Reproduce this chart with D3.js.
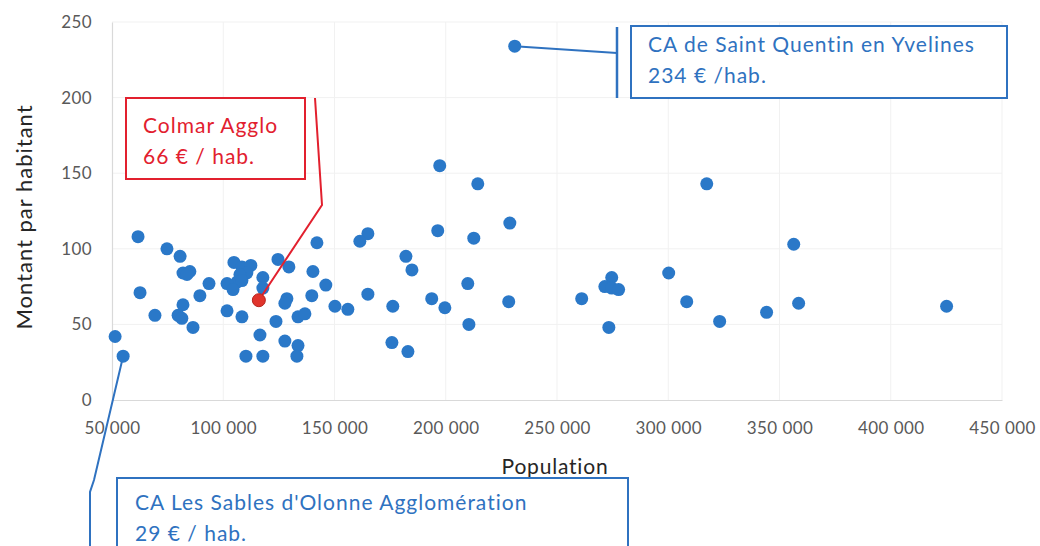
<!DOCTYPE html>
<html lang="fr">
<head>
<meta charset="utf-8">
<script src="https://cdn.jsdelivr.net/npm/d3@7"></script>
<style>
  html, body { margin: 0; padding: 0; background: #ffffff; }
  svg { display: block; font-family: Lato, "Open Sans", sans-serif; }
</style>
</head>
<body>
<svg id="chart" width="1040" height="546"></svg>
<script>
// Population de l'EPCI et montant par habitant
const population = [61700, 51400, 62600, 74700, 80600, 81900, 85000, 83700, 69300, 81900,
  79700, 81400, 86400, 89500, 93600, 101700, 108400, 104800, 108400, 112400,
  110600, 107500, 106200, 101700, 104400, 108400, 117800, 117800, 124600, 129500,
  116500, 110200, 117800, 123700, 128600, 127700, 127700, 133600, 133100, 133600,
  136700, 139800, 140300, 142100, 146100, 150200, 156000, 165000, 161400, 165000,
  182100, 184800, 176200, 175800, 183000, 197300, 196400, 193700, 199600, 214400,
  212600, 209900, 210400, 228800, 228300, 261100, 274600, 271500, 274600, 277700,
  273300, 300200, 308300, 317300, 323100, 344200, 356400, 358600, 425100];
const montantParHabitant = [108, 42, 71, 100, 95, 84, 85, 83, 56, 63,
  56, 54, 48, 69, 77, 59, 55, 91, 88, 89,
  84, 83, 78, 77, 73, 79, 81, 74, 93, 88,
  43, 29, 29, 52, 67, 64, 39, 36, 29, 55,
  57, 69, 85, 104, 76, 62, 60, 110, 105, 70,
  95, 86, 62, 38, 32, 155, 112, 67, 61, 143,
  107, 77, 50, 117, 65, 67, 81, 75, 74, 73,
  48, 84, 65, 143, 52, 58, 103, 64, 62];

// EPCI mis en avant
const calloutNames = ["Colmar Agglo", "CA de Saint Quentin en Yvelines", "CA Les Sables d'Olonne Agglomération"];
const calloutUnits = ["€ / hab.", "€ /hab.", "€ / hab."];
const calloutPopulation = [116000, 231000, 55000];
const calloutMontant = [66, 234, 29];

const xTicks = [50000, 100000, 150000, 200000, 250000, 300000, 350000, 400000, 450000];
const yTicks = [0, 50, 100, 150, 200, 250];

const svg = d3.select("#chart");
const x = d3.scaleLinear().domain([50000, 450000]).range([112, 1002]);
const y = d3.scaleLinear().domain([0, 250]).range([400, 22]);

const fmt = d => d3.format(",")(d).replace(/,/g, " ");

// grille
svg.append("g").selectAll("line").data(yTicks.slice(1)).join("line")
  .attr("x1", x(50000)).attr("x2", x(450000))
  .attr("y1", d => y(d)).attr("y2", d => y(d))
  .attr("stroke", "#f1f1f1").attr("stroke-width", 1);
svg.append("g").selectAll("line").data(xTicks.slice(1)).join("line")
  .attr("x1", d => x(d)).attr("x2", d => x(d))
  .attr("y1", y(0)).attr("y2", y(250))
  .attr("stroke", "#f1f1f1").attr("stroke-width", 1);

// axes
const xAxis = svg.append("g").attr("transform", `translate(0,${y(0)})`)
  .call(d3.axisBottom(x).tickValues(xTicks).tickFormat(fmt).tickSize(0).tickPadding(22));
const yAxis = svg.append("g").attr("transform", `translate(${x(50000)},0)`)
  .call(d3.axisLeft(y).tickValues(yTicks).tickSize(0).tickPadding(20));
[xAxis, yAxis].forEach(g => {
  g.select(".domain").attr("stroke", "#d9d9d9").attr("stroke-width", 1.2);
  g.selectAll("text").attr("fill", "#595959").style("font-size", "17px")
    .style("letter-spacing", "0.4px").style("font-family", "Lato, sans-serif");
});
yAxis.selectAll("text").attr("dy", "0.32em");

// titres des axes
svg.append("text").attr("x", 555).attr("y", 474).attr("text-anchor", "middle")
  .attr("fill", "#262626").style("font-size", "21px").style("letter-spacing", "0.8px")
  .text("Population");
svg.append("text").attr("transform", "translate(32,217) rotate(-90)")
  .attr("text-anchor", "middle").attr("fill", "#262626").style("font-size", "22px")
  .style("letter-spacing", "1px")
  .text("Montant par habitant");

// points
svg.append("g").selectAll("circle").data(population.map((p, i) => [p, montantParHabitant[i]]))
  .join("circle")
  .attr("cx", d => x(d[0])).attr("cy", d => y(d[1])).attr("r", 6.5)
  .attr("fill", "#2a78c8");

// annotations
const blue = "#2f72c0", red = "#e2202e";
const pts = calloutPopulation.map((p, i) => [x(p), y(calloutMontant[i])]);
const line = d3.line();
const label = (xPos, yPos, color, txt) => svg.append("text")
  .attr("x", xPos).attr("y", yPos).attr("fill", color)
  .style("font-size", "21px").style("letter-spacing", "1px").text(txt);

// Colmar
svg.append("path").attr("d", line([[315, 98], [322, 205], pts[0]]))
  .attr("fill", "none").attr("stroke", red).attr("stroke-width", 2);
svg.append("rect").attr("x", 126).attr("y", 98).attr("width", 179).attr("height", 81)
  .attr("fill", "#fff").attr("stroke", red).attr("stroke-width", 2);
label(143, 133, red, calloutNames[0]);
label(143, 164, red, `${calloutMontant[0]} ${calloutUnits[0]}`);

// Saint Quentin en Yvelines
svg.append("path").attr("d", line([pts[1], [617, 53]]))
  .attr("fill", "none").attr("stroke", blue).attr("stroke-width", 2);
svg.append("path").attr("d", line([[617, 27], [617, 98]]))
  .attr("fill", "none").attr("stroke", blue).attr("stroke-width", 2.5);
svg.append("rect").attr("x", 631).attr("y", 26).attr("width", 376).attr("height", 72)
  .attr("fill", "#fff").attr("stroke", blue).attr("stroke-width", 2);
label(648, 52, blue, calloutNames[1]);
label(648, 83, blue, `${calloutMontant[1]} ${calloutUnits[1]}`);

// Les Sables d'Olonne
svg.append("path").attr("d", line([pts[2], [94, 480], [90, 492], [90, 546]]))
  .attr("fill", "none").attr("stroke", blue).attr("stroke-width", 2);
svg.append("rect").attr("x", 117).attr("y", 478).attr("width", 511).attr("height", 90)
  .attr("fill", "#fff").attr("stroke", blue).attr("stroke-width", 2);
label(135, 510, blue, calloutNames[2]);
label(135, 541, blue, `${calloutMontant[2]} ${calloutUnits[2]}`);

// points mis en avant
svg.append("g").selectAll("circle").data(pts).join("circle")
  .attr("cx", d => d[0]).attr("cy", d => d[1]).attr("r", 6.5)
  .attr("fill", (d, i) => i === 0 ? "#e0342c" : "#2a78c8")
  .attr("stroke", (d, i) => i === 0 ? "#b5241c" : "none").attr("stroke-width", 1);
</script>
</body>
</html>
